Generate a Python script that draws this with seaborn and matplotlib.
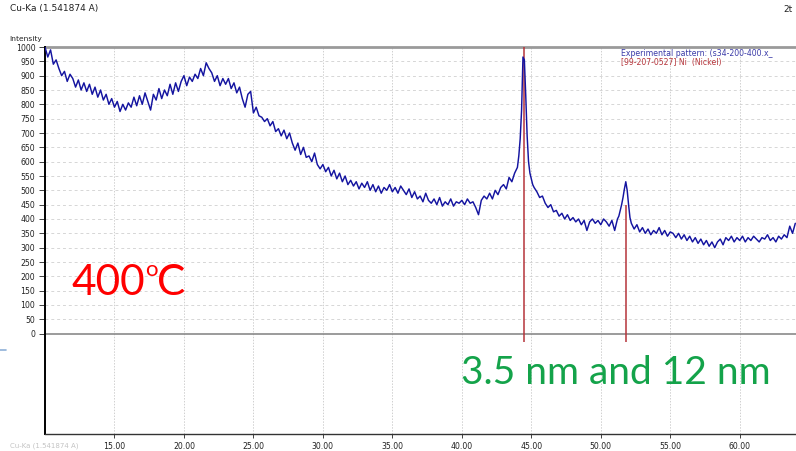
import numpy as np
import pandas as pd
import matplotlib
matplotlib.use("Agg")
import matplotlib.pyplot as plt
import seaborn as sns

# ---- data ----
# segment A: 10.0 .. 43.8 step 0.2
seg_a = [1000, 965, 990, 940, 955,
         925, 900, 915, 880, 905,
         890, 860, 885, 850, 875,
         845, 870, 835, 860, 825,
         850, 815, 835, 800, 820,
         790, 810, 775, 800, 780,
         805, 790, 825, 795, 830,
         800, 840, 810, 780, 835,
         815, 855, 820, 850, 830,
         870, 835, 875, 845, 880,
         900, 865, 895, 880, 905,
         890, 925, 900, 945, 925,
         910, 880, 900, 865, 890,
         870, 890, 855, 875, 840,
         860, 820, 790, 835, 845,
         770, 790, 760, 755, 740,
         750, 725, 740, 705, 715,
         690, 710, 680, 700, 665,
         640, 665, 625, 650, 615,
         620, 600, 630, 590, 575,
         590, 565, 580, 550, 570,
         540, 560, 530, 550, 520,
         535, 515, 530, 505, 525,
         510, 530, 500, 520, 495,
         515, 490, 510, 500, 520,
         495, 510, 490, 515, 500,
         485, 505, 475, 495, 470,
         480, 460, 490, 465, 455,
         470, 450, 475, 445, 460,
         450, 470, 445, 460, 455,
         465, 450, 470, 455, 460,
         440, 415, 465, 480, 470,
         490, 470, 500, 485, 510,
         520, 505, 545, 530, 560]
# segment B: 44.0 .. 45.1 step 0.1
seg_b = [580, 620, 680, 780, 965, 955, 830, 690, 600, 560, 540, 520]
# segment C: 45.2 .. 51.2 step 0.2
seg_c = [510, 495, 475, 480, 455, 440, 450, 425, 430, 410,
         420, 400, 415, 395, 405, 390, 400, 380, 395, 360,
         390, 400, 385, 395, 380, 400, 390, 375, 395, 360, 400]
# segment D: 51.3 .. 52.3 step 0.1
seg_d = [410, 430, 450, 475, 505, 530, 500, 450, 405, 385, 375]
# segment E: 52.4 .. 64.0 step 0.2
seg_e = [365, 380, 355, 370, 350,
         365, 345, 360, 350, 370,
         345, 360, 340, 355, 350,
         335, 350, 330, 345, 325,
         340, 320, 335, 315, 330,
         310, 325, 305, 320, 300,
         320, 330, 310, 335, 325,
         340, 320, 335, 325, 340,
         320, 335, 325, 340, 330,
         320, 335, 330, 345, 325,
         335, 320, 340, 330, 345,
         335, 375, 350, 385]
segments = [(10.0, 0.2, seg_a), (44.0, 0.1, seg_b), (45.2, 0.2, seg_c),
            (51.3, 0.1, seg_d), (52.4, 0.2, seg_e)]

ref_pos = [44.50, 51.85]        # Ni reference lines (2theta)
ref_top = [1000, 450]           # reference stick heights
xticks = [15, 20, 25, 30, 35, 40, 45, 50, 55, 60]
yticks = list(range(0, 1001, 50))

xs, ys = [], []
for start, step, vals in segments:
    xs.extend(start + step * np.arange(len(vals)))
    ys.extend(vals)
df = pd.DataFrame({"two_theta": xs, "intensity": ys})

# ---- figure ----
sns.set_style("white")
plt.rcParams["font.family"] = ["DejaVu Sans"]
W, H = 796, 451
fig = plt.figure(figsize=(W / 100, H / 100), dpi=100)
ax = fig.add_axes([45 / W, 17 / H, 1 - 45 / W, (434 - 47) / H])

ax.set_xlim(10, 64.05)
ax.set_ylim(-350, 1000)

# grid
for v in yticks[1:-1]:
    ax.axhline(v, color="#d6d6d6", lw=0.7, ls=(0, (3, 3)), zorder=0)
for v in xticks:
    ax.axvline(v, color="#d0d0d0", lw=0.7, ls=(0, (1.5, 1.5)), zorder=0)
ax.axhline(0, color="#8a8a8a", lw=1.2, zorder=1)
ax.axhline(1000, color="#9a9a9a", lw=2.0, zorder=1, clip_on=False)

ax.vlines(ref_pos, [-28, -28], ref_top, color="#b5343a", lw=1.1, zorder=2)

sns.lineplot(data=df, x="two_theta", y="intensity", ax=ax, color="#1414a0",
             lw=1.05, estimator=None, sort=False, zorder=3)

ax.set_xlabel("")
ax.set_ylabel("")
ax.set_yticks(yticks)
ax.set_yticklabels([str(v) for v in yticks], fontsize=5.6, color="#222222")
ax.set_xticks(xticks)
ax.set_xticklabels([f"{v:.2f}" for v in xticks], fontsize=5.6, color="#222222")
ax.tick_params(axis="y", direction="out", length=4, width=0.6, pad=3, left=True, colors="#222222")
ax.tick_params(axis="x", direction="out", length=3, width=0.6, pad=3, bottom=True, colors="#222222")

for s in ["top", "right"]:
    ax.spines[s].set_visible(False)
ax.spines["left"].set_color("black")
ax.spines["left"].set_linewidth(1.4)
ax.spines["bottom"].set_color("#333333")
ax.spines["bottom"].set_linewidth(1.0)

# texts
fig.text(10 / W, 1 - 9 / H, "Cu-Ka (1.541874 A)", fontsize=6.5, color="#222222", va="center")
fig.text(783 / W, 1 - 9 / H, "2t", fontsize=6.5, color="#222222", va="center")
fig.text(9 / W, 1 - 39.5 / H, "Intensity", fontsize=5.4, color="#222222", va="center")
fig.text(621 / W, 1 - 54 / H, "Experimental pattern: (s34-200-400.x_", fontsize=5.6,
         color="#3a3aa8", va="center")
fig.text(621 / W, 1 - 62.5 / H, "[99-207-0527] Ni  (Nickel)", fontsize=5.6,
         color="#b5343a", va="center")
fig.text(71 / W, 1 - 283 / H, "400", fontsize=30.5, color="#ff0000", va="center",
         family=["Lato", "DejaVu Sans"])
fig.text(145 / W, 1 - 270 / H, "o", fontsize=16, color="#ff0000", va="center",
         family=["Lato", "DejaVu Sans"])
fig.text(157 / W, 1 - 283 / H, "C", fontsize=30.5, color="#ff0000", va="center",
         family=["Lato", "DejaVu Sans"])
fig.text(461 / W, 1 - 373 / H, "3.5 nm and 12 nm", fontsize=28, color="#14a34a",
         va="center", family=["Lato", "DejaVu Sans"])
fig.text(10 / W, 1 - 446 / H, "Cu-Ka (1.541874 A)", fontsize=5, color="#c4c4c4", va="center")
fig.lines.append(plt.Line2D([0, 6 / W], [1 - 350 / H, 1 - 350 / H], transform=fig.transFigure,
                            color="#8fb0d8", lw=1.2))

fig.savefig("out.png", dpi=100)
